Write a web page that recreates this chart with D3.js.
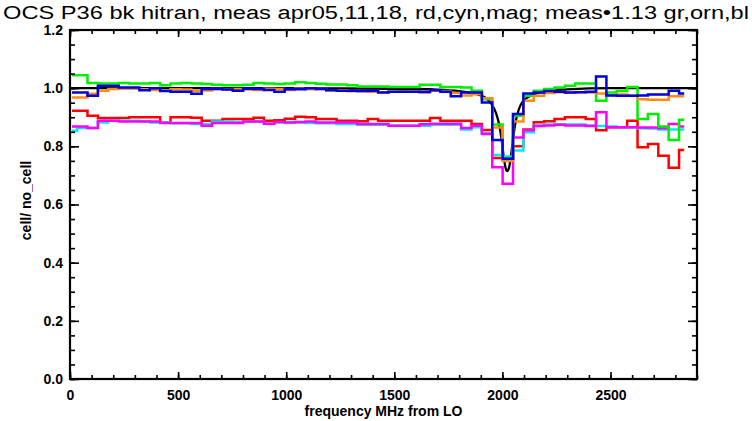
<!DOCTYPE html>
<html><head><meta charset="utf-8">
<script src="https://cdn.jsdelivr.net/npm/d3@7/dist/d3.min.js"></script>
<style>body{margin:0;background:#fff}svg{display:block}</style>
</head><body>
<svg id="c" width="752" height="421"></svg>
<script>
// ---- data ----
const freq = [9,57,105,153,201,249,297,345,393,441,489,537,585,633,681,729,777,825,873,921,969,1017,1065,1113,1161,1209,1257,1305,1353,1401,1449,1497,1545,1593,1641,1689,1737,1785,1833,1881,1929,1977,2025,2073,2121,2169,2217,2265,2313,2361,2409,2457,2505,2553,2601,2649,2697,2745,2793,2841];
const measRed = [0.922,0.922,0.905,0.897,0.897,0.897,0.900,0.900,0.900,0.882,0.900,0.900,0.898,0.888,0.888,0.894,0.894,0.894,0.898,0.888,0.890,0.895,0.902,0.900,0.894,0.894,0.888,0.888,0.886,0.894,0.888,0.888,0.888,0.888,0.888,0.897,0.888,0.888,0.888,0.877,0.856,0.760,0.755,0.800,0.858,0.883,0.886,0.894,0.900,0.900,0.894,0.855,0.866,0.866,0.888,0.797,0.808,0.768,0.726,0.787];
const measCyan = [0.854,0.863,0.863,0.882,0.888,0.888,0.888,0.886,0.882,0.882,0.879,0.879,0.877,0.877,0.885,0.885,0.884,0.885,0.885,0.878,0.882,0.882,0.882,0.880,0.879,0.879,0.877,0.877,0.874,0.874,0.874,0.871,0.871,0.871,0.871,0.874,0.874,0.874,0.858,0.866,0.845,0.770,0.765,0.786,0.848,0.872,0.875,0.876,0.875,0.875,0.872,0.870,0.868,0.866,0.865,0.862,0.861,0.858,0.858,0.858];
const measMag = [0.868,0.868,0.863,0.888,0.888,0.885,0.885,0.885,0.885,0.880,0.880,0.880,0.880,0.871,0.880,0.880,0.880,0.885,0.885,0.878,0.884,0.882,0.884,0.885,0.882,0.882,0.882,0.882,0.877,0.877,0.877,0.871,0.871,0.871,0.876,0.878,0.878,0.878,0.863,0.871,0.842,0.728,0.671,0.830,0.855,0.870,0.872,0.874,0.872,0.872,0.870,0.917,0.866,0.866,0.866,0.865,0.865,0.862,0.877,0.868];
const scaledGreen = [1.044,1.044,1.018,1.016,1.016,1.018,1.016,1.016,1.018,1.010,1.016,1.018,1.016,1.014,1.012,1.010,1.010,1.012,1.018,1.016,1.014,1.016,1.020,1.018,1.015,1.013,1.013,1.010,1.006,1.006,1.006,1.004,1.004,1.004,1.012,1.012,1.004,1.004,1.002,0.991,0.962,0.875,0.760,0.905,0.974,0.991,0.997,1.002,1.008,1.016,1.016,0.957,0.985,0.990,1.004,0.894,0.911,0.868,0.822,0.891];
const scaledOrange = [0.968,0.968,0.981,0.991,0.997,0.999,0.999,0.996,0.994,0.991,0.996,0.995,0.991,0.992,0.997,0.996,0.997,0.995,0.994,0.998,0.997,0.994,0.998,0.996,0.997,0.993,0.993,0.989,0.989,0.988,0.986,0.988,0.989,0.988,0.986,0.991,0.990,0.983,0.975,0.979,0.965,0.865,0.750,0.885,0.957,0.974,0.983,0.986,0.984,0.986,0.985,0.982,0.976,0.978,0.975,0.962,0.960,0.960,0.972,0.972];
const scaledBlue = [0.985,0.985,0.974,1.008,1.008,1.002,1.002,0.993,1.000,0.990,0.988,0.988,0.981,0.997,0.997,0.995,0.991,0.998,0.997,0.994,0.988,0.996,0.996,1.000,0.997,0.993,0.991,0.991,0.990,0.991,0.985,0.988,0.988,0.988,0.987,0.993,0.988,0.972,0.985,0.985,0.951,0.822,0.757,0.911,0.982,0.985,0.990,0.988,0.985,0.986,0.988,1.040,0.975,0.974,0.974,0.975,0.978,0.978,0.991,0.982];
const hitranFreq = [0,500,1000,1500,1700,1800,1850,1900,1925,1950,1970,1985,1995,2005,2015,2022,2030,2040,2050,2060,2075,2090,2110,2150,2200,2300,2500,2900];
const hitranVal  = [1.000,1.000,1.000,0.998,0.995,0.990,0.985,0.975,0.965,0.945,0.915,0.875,0.830,0.770,0.725,0.715,0.725,0.770,0.830,0.880,0.925,0.950,0.965,0.980,0.990,0.996,1.000,1.000];
const xMajorTicks = [0,500,1000,1500,2000,2500];
const yMajorTicks = [0.0,0.2,0.4,0.6,0.8,1.0,1.2];
const titleText = "OCS P36 bk hitran, meas apr05,11,18, rd,cyn,mag; meas\u20221.13 gr,orn,bl";
const xLabel = "frequency MHz from LO";
const yLabel = "cell/ no_cell";

// ---- drawing ----
const svg = d3.select("#c");
const L = 70, R = 697, T = 30, B = 379;
const x = d3.scaleLinear().domain([0, 2900]).range([L, R]);
const y = d3.scaleLinear().domain([0, 1.2]).range([B, T]);

svg.append("rect").attr("width",752).attr("height",421).attr("fill","#fff");

const plot = svg.append("g");
const stepLine = d3.line().x(d=>x(d[0])).y(d=>y(d[1])).curve(d3.curveStep);

plot.append("path")
  .attr("d", d3.line().x(d=>x(d[0])).y(d=>y(d[1])).curve(d3.curveMonotoneX)(hitranFreq.map((f,i)=>[f,hitranVal[i]])))
  .attr("fill","none").attr("stroke","#000").attr("stroke-width",2.3);

const series = [
  [measRed, "#ff0000"],
  [measCyan, "#00e8f0"],
  [measMag, "#ff00ff"],
  [scaledGreen, "#00ee00"],
  [scaledOrange, "#ff8c10"],
  [scaledBlue, "#0000e0"]
];
series.forEach(([vals,col])=>{
  plot.append("path")
    .attr("d", stepLine(freq.map((f,i)=>[f, vals[i]])))
    .attr("fill","none").attr("stroke",col).attr("stroke-width",2.5)
    .attr("stroke-linejoin","miter");
});

// axes
const fontTick = "bold 14px 'Liberation Sans', Arial, sans-serif";
function styleAxis(g){
  g.select(".domain").remove();
  g.selectAll(".tick line").attr("stroke","#000").attr("stroke-width",1.6);
  g.selectAll(".tick text").style("font", fontTick).attr("fill","#000");
}
// bottom
svg.append("g").attr("transform",`translate(0,${B})`)
  .call(d3.axisBottom(x).tickValues(xMajorTicks).tickSize(-7).tickPadding(11).tickFormat(d3.format("d")))
  .call(styleAxis);
svg.append("g").attr("transform",`translate(0,${B})`)
  .call(d3.axisBottom(x).tickValues(d3.range(0,2901,100)).tickSize(-4).tickFormat(""))
  .call(styleAxis);
// top
svg.append("g").attr("transform",`translate(0,${T})`)
  .call(d3.axisTop(x).tickValues(xMajorTicks).tickSize(-7).tickFormat(""))
  .call(styleAxis);
svg.append("g").attr("transform",`translate(0,${T})`)
  .call(d3.axisTop(x).tickValues(d3.range(0,2901,100)).tickSize(-4).tickFormat(""))
  .call(styleAxis);
// left
svg.append("g").attr("transform",`translate(${L},0)`)
  .call(d3.axisLeft(y).tickValues(yMajorTicks).tickSize(-9).tickPadding(7).tickFormat(d3.format(".1f")))
  .call(styleAxis);
svg.append("g").attr("transform",`translate(${L},0)`)
  .call(d3.axisLeft(y).tickValues(d3.range(0,1.2001,0.05)).tickSize(-5).tickFormat(""))
  .call(styleAxis);
// right
svg.append("g").attr("transform",`translate(${R},0)`)
  .call(d3.axisRight(y).tickValues(yMajorTicks).tickSize(-9).tickFormat(""))
  .call(styleAxis);
svg.append("g").attr("transform",`translate(${R},0)`)
  .call(d3.axisRight(y).tickValues(d3.range(0,1.2001,0.05)).tickSize(-5).tickFormat(""))
  .call(styleAxis);

// frame
svg.append("rect").attr("x",L).attr("y",T).attr("width",R-L).attr("height",B-T)
  .attr("fill","none").attr("stroke","#000").attr("stroke-width",2.2);

// texts
svg.append("text").attr("x",3).attr("y",19)
  .attr("textLength",746).attr("lengthAdjust","spacingAndGlyphs")
  .style("font","18px 'Liberation Sans', Arial, sans-serif").attr("fill","#000")
  .text(titleText);
svg.append("text").attr("x",(L+R)/2).attr("y",416).attr("text-anchor","middle")
  .style("font","bold 14px 'Liberation Sans', Arial, sans-serif").attr("fill","#000")
  .text(xLabel);
svg.append("text").attr("transform",`translate(31,${(T+B)/2 - 4}) rotate(-90)`).attr("text-anchor","middle")
  .style("font","bold 14px 'Liberation Sans', Arial, sans-serif").attr("fill","#000")
  .text(yLabel);
</script>
</body></html>
